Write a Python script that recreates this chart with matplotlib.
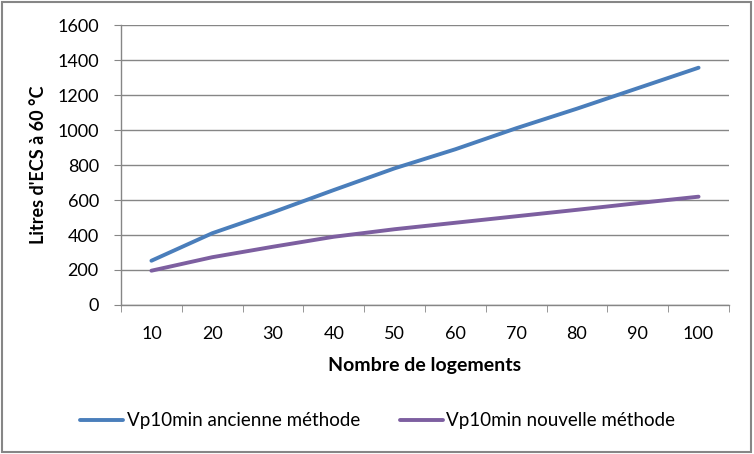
import numpy as np
import matplotlib
matplotlib.use("Agg")
import matplotlib.pyplot as plt
from matplotlib.patches import Rectangle

# data
logements = [10, 20, 30, 40, 50, 60, 70, 80, 90, 100]
ancienne = [253, 410, 530, 657, 781, 890, 1010, 1122, 1239, 1356]
nouvelle = [196, 273, 333, 390, 433, 470, 507, 544, 582, 619]

plt.rcParams['font.family'] = ['Lato', 'DejaVu Sans']

fig = plt.figure(figsize=(7.54, 4.54), dpi=100)
ax = fig.add_axes([0.1605, 0.3282, 0.8063, 0.6167])

grid_col = '#868686'
x = np.arange(len(logements))
ax.plot(x, ancienne, color='#4A7EBB', lw=2.8, solid_capstyle='round',
        label='Vp10min ancienne méthode')
ax.plot(x, nouvelle, color='#7D5FA0', lw=2.8, solid_capstyle='round',
        label='Vp10min nouvelle méthode')

ax.set_xlim(-0.5, len(logements) - 0.5)
ax.set_ylim(0, 1600)
ax.set_yticks(np.arange(0, 1601, 200))
ax.set_xticks(x)
ax.set_xticklabels([str(v) for v in logements])
ax.set_xticks(np.arange(-0.5, len(logements)), minor=True)
ax.tick_params(axis='x', which='major', length=0, pad=15, labelsize=13)
ax.tick_params(axis='x', which='minor', length=5, color=grid_col, direction='out')
ax.tick_params(axis='y', length=5, color=grid_col, labelsize=13, pad=11)

ax.yaxis.grid(True, color=grid_col, lw=1)
ax.set_axisbelow(True)
for s in ['top', 'right']:
    ax.spines[s].set_visible(False)
for s in ['left', 'bottom']:
    ax.spines[s].set_color(grid_col)
    ax.spines[s].set_linewidth(1)

ax.set_xlabel('Nombre de logements', fontsize=14, fontweight='bold', labelpad=11)
ax.set_ylabel("Litres d'ECS à 60 °C", fontsize=13, fontweight='bold', labelpad=7)

fig.legend(loc='center', bbox_to_anchor=(0.501, 0.0727), ncol=2, frameon=False,
           fontsize=13.5, handlelength=2.3, handletextpad=0.2, columnspacing=2.1)

# outer frame of the chart
fig.patches.append(Rectangle((0.003, 0.005), 0.993, 0.99, transform=fig.transFigure,
                             fill=False, edgecolor='#868686', lw=1.5))

fig.savefig('out.png', dpi=100)
